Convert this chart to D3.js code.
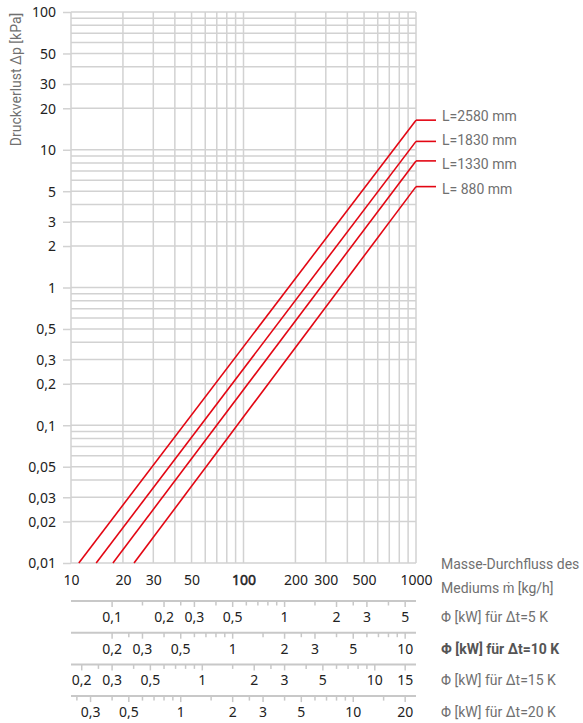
<!DOCTYPE html>
<html><head><meta charset="utf-8">
<script src="https://cdn.jsdelivr.net/npm/d3@7"></script>
<style>
html,body{margin:0;padding:0;background:#fff;}
svg{display:block;}
.num{font-family:"Noto Sans",sans-serif;font-size:14px;fill:#222;}
.lab{font-family:Roboto,sans-serif;font-size:14px;fill:#707070;}
</style></head>
<body><div id="chart"></div>
<script>
// ---- data ----
const massTicks = [10, 20, 30, 50, 100, 200, 300, 500, 1000];
const dpTicks = [100, 50, 30, 20, 10, 5, 3, 2, 1, 0.5, 0.3, 0.2, 0.1, 0.05, 0.03, 0.02, 0.01];
const seriesNames = ["L=2580 mm", "L=1830 mm", "L=1330 mm", "L= 880 mm"];
const flowAtMinDp = [11.1, 14.0, 17.5, 23.2];   // kg/h where Δp = 0.01 kPa
const dpAtMaxFlow = [16.4, 11.5, 8.3, 5.4];     // kPa at 1000 kg/h
const deltaT = [5, 10, 15, 20];
const cp = 4.16; // kJ/(kg K)
const phiTicks = [
  [0.1,0.15,0.2,0.25,0.3,0.4,0.5,0.6,0.7,0.8,0.9,1,1.5,2,2.5,3,4,5],
  [0.2,0.25,0.3,0.4,0.5,0.6,0.7,0.8,0.9,1,1.5,2,2.5,3,4,5,6,7,8,9,10],
  [0.2,0.25,0.3,0.4,0.5,0.6,0.7,0.8,0.9,1,1.5,2,2.5,3,4,5,6,7,8,9,10,15],
  [0.25,0.3,0.4,0.5,0.6,0.7,0.8,0.9,1,1.5,2,2.5,3,4,5,6,7,8,9,10,15,20]
];
const phiLabels = [
  [0.1,0.2,0.3,0.5,1,2,3,5],
  [0.2,0.3,0.5,1,2,3,5,10],
  [0.2,0.3,0.5,1,2,3,5,10,15],
  [0.3,0.5,1,2,3,5,10,20]
];
const phiTitles = ["Φ [kW] für Δt=5 K", "Φ [kW] für Δt=10 K", "Φ [kW] für Δt=15 K", "Φ [kW] für Δt=20 K"];
const yTitle = "Druckverlust Δp [kPa]";
const xTitle = ["Masse-Durchfluss des", "Mediums ṁ [kg/h]"];

// ---- layout ----
const W = 583, H = 723;
const L = 71, R = 416, T = 12, B = 563;
const fmt = v => String(v).replace(".", ",");

const svg = d3.select("#chart").append("svg").attr("width", W).attr("height", H);
const x = d3.scaleLog().domain([10, 1000]).range([L, R]);
const y = d3.scaleLog().domain([0.01, 100]).range([B, T]);

const gridColor = "#d2d2d2";
// grid
const g = svg.append("g");
g.selectAll("line.v").data(x.ticks()).join("line")
  .attr("x1", d => x(d)).attr("x2", d => x(d)).attr("y1", T).attr("y2", B)
  .attr("stroke", gridColor).attr("stroke-width", 1.5);
g.selectAll("line.h").data(y.ticks()).join("line")
  .attr("x1", L).attr("x2", R).attr("y1", d => y(d)).attr("y2", d => y(d))
  .attr("stroke", gridColor).attr("stroke-width", 1.5);

// y axis ticks & labels
const yAxis = d3.axisLeft(y).tickValues(dpTicks).tickFormat(fmt).tickSize(8).tickPadding(7);
const ya = svg.append("g").attr("transform", `translate(${L},0)`).call(yAxis);
ya.select(".domain").remove();
ya.selectAll(".tick line").attr("stroke", gridColor).attr("stroke-width", 1.5);
ya.selectAll(".tick text").attr("class", "num").attr("font-family", null).attr("font-size", null).attr("fill", null).attr("dy", "0.35em");

// x axis labels
const xAxis = d3.axisBottom(x).tickValues(massTicks).tickFormat(d => String(d)).tickSize(0).tickPadding(12);
const xa = svg.append("g").attr("transform", `translate(0,${B})`).call(xAxis);
xa.select(".domain").remove();
xa.selectAll(".tick text").attr("class", "num").attr("font-family", null).attr("font-size", null).attr("fill", null)
  .attr("font-size", "15px")
  .attr("stroke", d => d === 100 ? "#222" : null)
  .attr("stroke-width", d => d === 100 ? 0.5 : null);

// y title
svg.append("text").attr("class", "lab")
  .attr("transform", `translate(21,${(T + 147) / 2}) rotate(-90)`)
  .attr("text-anchor", "middle").text(yTitle);

// series
const red = "#e30613";
const line = d3.line().x(d => x(d[0])).y(d => y(d[1]));
seriesNames.forEach((name, i) => {
  const pts = [[flowAtMinDp[i], 0.01], [1000, dpAtMaxFlow[i]]];
  svg.append("path").attr("d", line(pts)).attr("fill", "none").attr("stroke", red).attr("stroke-width", 1.6);
  const ye = y(dpAtMaxFlow[i]);
  svg.append("line").attr("x1", R).attr("x2", R + 20).attr("y1", ye).attr("y2", ye)
    .attr("stroke", red).attr("stroke-width", 1.6);
  const ly = y(dpAtMaxFlow[0]) - 4 + i * 24.2;
  svg.append("text").attr("class", "lab").attr("x", 442).attr("y", ly).attr("dy", "0.35em").text(name);
});

// x title
xTitle.forEach((t, i) => {
  svg.append("text").attr("class", "lab").attr("x", 441).attr("y", 564 + i * 24).attr("dy", "0.35em").text(t);
});

// secondary Φ axes
deltaT.forEach((dt, i) => {
  const k = cp * dt / 3600;
  const s = d3.scaleLog().domain([10 * k, 1000 * k]).range([L, R]);
  const y0 = 601 + i * 31.7;
  const ga = svg.append("g");
  ga.append("line").attr("x1", L).attr("x2", R).attr("y1", y0).attr("y2", y0)
    .attr("stroke", "#c8c8c8").attr("stroke-width", 2);
  const labSet = new Set(phiLabels[i]);
  ga.selectAll("line.t").data(phiTicks[i]).join("line")
    .attr("x1", d => s(d)).attr("x2", d => s(d)).attr("y1", y0)
    .attr("y2", d => y0 + (labSet.has(d) ? 6 : 4.5))
    .attr("stroke", "#c8c8c8").attr("stroke-width", 1.5);
  ga.selectAll("text").data(phiLabels[i]).join("text").attr("class", "num")
    .attr("x", d => s(d)).attr("y", y0 + 16).attr("dy", "0.35em")
    .attr("text-anchor", "middle").text(fmt);
  const tt = svg.append("text").attr("class", "lab").attr("x", 441).attr("y", y0 + 16).attr("dy", "0.35em").text(phiTitles[i]);
  if (dt === 10) tt.style("font-weight", "bold").style("fill", "#555");
});
</script></body></html>
